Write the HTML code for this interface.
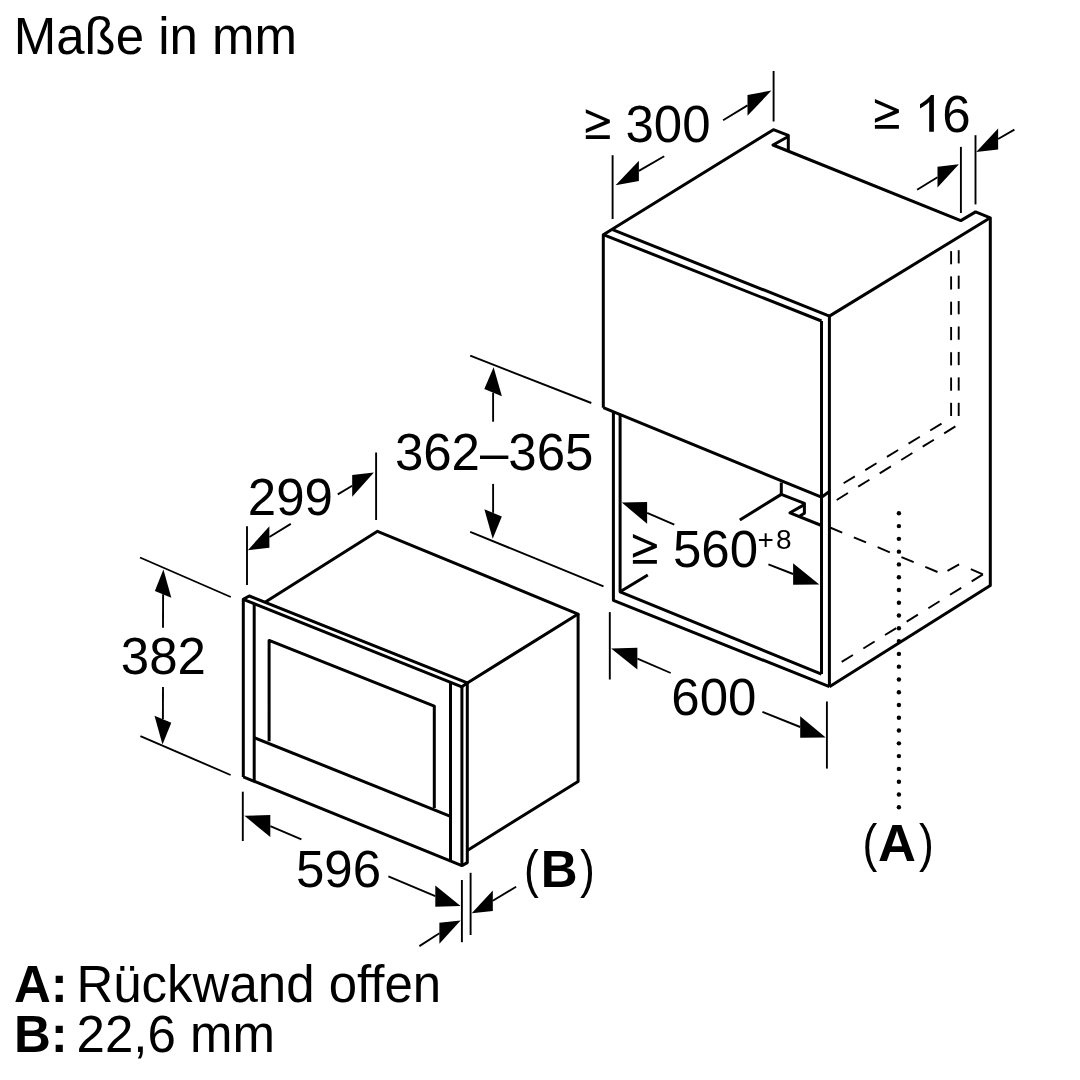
<!DOCTYPE html>
<html><head><meta charset="utf-8"><style>
html,body{margin:0;padding:0;background:#fff;}
svg{position:absolute;left:0;top:0;display:block;will-change:transform;}
text{font-family:"Liberation Sans", sans-serif;fill:#000;}
</style></head><body>
<svg width="1080" height="1080" viewBox="0 0 1080 1080">
<rect width="1080" height="1080" fill="#fff"/>
<g fill="none" stroke="#000" stroke-linejoin="round" stroke-linecap="butt">
<path d="M603.30,407.70 L603.30,234.70 L773.40,129.70 L788.30,135.30 L788.30,151.20" stroke-width="3.0" />
<path d="M788.30,136.50 L773.00,145.00 L960.80,220.60 L975.60,211.90 L990.30,217.80 L990.30,585.60 L829.40,686.70" stroke-width="3.0" />
<path d="M829.40,316.10 L990.30,217.80" stroke-width="3.0" />
<path d="M603.30,234.70 L821.50,321.00" stroke-width="3.0" />
<path d="M611.90,229.40 L829.40,316.10" stroke-width="3.0" />
<path d="M603.30,407.70 L821.50,497.20 L829.40,491.50" stroke-width="3.0" />
<path d="M821.50,321.00 L821.50,674.10" stroke-width="3.0" />
<path d="M829.40,316.10 L829.40,686.70" stroke-width="3.0" />
<path d="M613.40,411.80 L613.40,600.30 L829.40,686.70" stroke-width="3.0" />
<path d="M620.10,414.50 L620.10,591.80 L821.50,674.10" stroke-width="3.0" />
<path d="M620.10,591.80 L647.80,575.00" stroke-width="3.0" />
<path d="M739.80,520.00 L781.30,494.40" stroke-width="3.0" />
<path d="M781.30,482.50 L781.30,494.40 L804.40,503.30 L804.40,513.30 L799.50,516.30" stroke-width="3.0" />
<path d="M804.40,504.60 L790.00,512.80 L821.50,525.50" stroke-width="3.0" />
<path d="M951.10,251.10 L951.10,264.30" stroke-width="1.9" />
<path d="M951.10,276.38 L951.10,289.58" stroke-width="1.9" />
<path d="M951.10,301.67 L951.10,314.87" stroke-width="1.9" />
<path d="M951.10,326.95 L951.10,340.15" stroke-width="1.9" />
<path d="M951.10,352.23 L951.10,365.43" stroke-width="1.9" />
<path d="M951.10,377.52 L951.10,390.72" stroke-width="1.9" />
<path d="M951.10,402.80 L951.10,416.00" stroke-width="1.9" />
<path d="M958.70,250.20 L958.70,263.40" stroke-width="1.9" />
<path d="M958.70,275.63 L958.70,288.83" stroke-width="1.9" />
<path d="M958.70,301.07 L958.70,314.27" stroke-width="1.9" />
<path d="M958.70,326.50 L958.70,339.70" stroke-width="1.9" />
<path d="M958.70,351.93 L958.70,365.13" stroke-width="1.9" />
<path d="M958.70,377.37 L958.70,390.57" stroke-width="1.9" />
<path d="M958.70,402.80 L958.70,416.00" stroke-width="1.9" />
<path d="M843.60,483.30 L854.87,476.43" stroke-width="1.9" />
<path d="M865.26,470.09 L876.53,463.22" stroke-width="1.9" />
<path d="M886.92,456.89 L898.18,450.01" stroke-width="1.9" />
<path d="M908.57,443.68 L919.84,436.81" stroke-width="1.9" />
<path d="M930.23,430.47 L941.50,423.60" stroke-width="1.9" />
<path d="M836.70,500.00 L847.92,493.04" stroke-width="1.9" />
<path d="M858.20,486.67 L869.41,479.72" stroke-width="1.9" />
<path d="M879.69,473.34 L890.91,466.39" stroke-width="1.9" />
<path d="M901.19,460.01 L912.41,453.06" stroke-width="1.9" />
<path d="M922.69,446.68 L933.90,439.73" stroke-width="1.9" />
<path d="M944.18,433.36 L955.40,426.40" stroke-width="1.9" />
<path d="M830.00,527.50 L842.20,532.55" stroke-width="1.9" />
<path d="M853.83,537.36 L866.02,542.41" stroke-width="1.9" />
<path d="M877.65,547.23 L889.85,552.27" stroke-width="1.9" />
<path d="M901.48,557.09 L913.67,562.14" stroke-width="1.9" />
<path d="M925.30,566.95 L937.50,572.00" stroke-width="1.9" />
<path d="M947.50,570.80 L959.10,564.30" stroke-width="1.9" />
<path d="M970.80,569.20 L982.90,574.40" stroke-width="1.9" />
<path d="M982.90,574.40 L971.68,581.35" stroke-width="1.9" />
<path d="M961.24,587.82 L950.02,594.78" stroke-width="1.9" />
<path d="M939.57,601.25 L928.35,608.20" stroke-width="1.9" />
<path d="M917.91,614.67 L906.69,621.63" stroke-width="1.9" />
<path d="M896.25,628.10 L885.03,635.05" stroke-width="1.9" />
<path d="M874.58,641.52 L863.36,648.48" stroke-width="1.9" />
<path d="M852.92,654.95 L841.70,661.90" stroke-width="1.9" />
<circle cx="898.9" cy="513.30" r="2.2" fill="#000" stroke="none"/>
<circle cx="898.9" cy="526.08" r="2.2" fill="#000" stroke="none"/>
<circle cx="898.9" cy="538.86" r="2.2" fill="#000" stroke="none"/>
<circle cx="898.9" cy="551.64" r="2.2" fill="#000" stroke="none"/>
<circle cx="898.9" cy="564.42" r="2.2" fill="#000" stroke="none"/>
<circle cx="898.9" cy="577.20" r="2.2" fill="#000" stroke="none"/>
<circle cx="898.9" cy="589.98" r="2.2" fill="#000" stroke="none"/>
<circle cx="898.9" cy="602.76" r="2.2" fill="#000" stroke="none"/>
<circle cx="898.9" cy="615.54" r="2.2" fill="#000" stroke="none"/>
<circle cx="898.9" cy="628.32" r="2.2" fill="#000" stroke="none"/>
<circle cx="898.9" cy="641.10" r="2.2" fill="#000" stroke="none"/>
<circle cx="898.9" cy="653.88" r="2.2" fill="#000" stroke="none"/>
<circle cx="898.9" cy="666.66" r="2.2" fill="#000" stroke="none"/>
<circle cx="898.9" cy="679.44" r="2.2" fill="#000" stroke="none"/>
<circle cx="898.9" cy="692.22" r="2.2" fill="#000" stroke="none"/>
<circle cx="898.9" cy="705.00" r="2.2" fill="#000" stroke="none"/>
<circle cx="898.9" cy="717.78" r="2.2" fill="#000" stroke="none"/>
<circle cx="898.9" cy="730.56" r="2.2" fill="#000" stroke="none"/>
<circle cx="898.9" cy="743.34" r="2.2" fill="#000" stroke="none"/>
<circle cx="898.9" cy="756.12" r="2.2" fill="#000" stroke="none"/>
<circle cx="898.9" cy="768.90" r="2.2" fill="#000" stroke="none"/>
<circle cx="898.9" cy="781.68" r="2.2" fill="#000" stroke="none"/>
<circle cx="898.9" cy="794.46" r="2.2" fill="#000" stroke="none"/>
<circle cx="898.9" cy="807.24" r="2.2" fill="#000" stroke="none"/>
<path d="M243.30,776.90 L243.30,599.40 L249.20,596.00 L467.30,682.90 L467.30,862.60 L461.90,865.60 L243.30,776.90" stroke-width="3.0" />
<path d="M243.30,599.40 L461.90,686.80 L467.30,682.90" stroke-width="3.0" />
<path d="M461.90,686.80 L461.90,865.60" stroke-width="3.0" />
<path d="M254.20,603.80 L254.20,781.30" stroke-width="3.0" />
<path d="M450.50,682.50 L450.50,861.00" stroke-width="3.0" />
<path d="M269.10,741.30 L269.10,640.40 L434.30,706.10 L434.30,808.00" stroke-width="3.0" />
<path d="M254.20,737.60 L450.50,816.30" stroke-width="3.0" />
<path d="M265.00,602.30 L377.50,531.30 L578.10,614.10 L467.30,682.90" stroke-width="3.0" />
<path d="M578.10,614.10 L578.10,781.50 L467.30,850.40" stroke-width="3.0" />
<path d="M612.60,155.20 L612.60,219.00" stroke-width="1.9" />
<path d="M773.60,71.00 L773.60,121.50" stroke-width="1.9" />
<path d="M615.60,185.30 L638.90,181.10 L638.90,160.70 Z" fill="#000" stroke="none"/>
<path d="M638.90,170.90 L664.20,156.20" stroke-width="1.9" />
<path d="M771.40,90.60 L747.50,115.80 L747.50,95.00 Z" fill="#000" stroke="none"/>
<path d="M747.50,105.40 L723.10,120.30" stroke-width="1.9" />
<path d="M960.90,146.90 L960.90,213.00" stroke-width="1.9" />
<path d="M975.50,135.20 L975.50,204.40" stroke-width="1.9" />
<path d="M958.90,164.20 L937.50,187.60 L937.50,166.80 Z" fill="#000" stroke="none"/>
<path d="M937.50,177.20 L917.10,189.70" stroke-width="1.9" />
<path d="M976.20,152.00 L998.10,149.40 L998.10,128.60 Z" fill="#000" stroke="none"/>
<path d="M998.10,139.00 L1014.40,129.60" stroke-width="1.9" />
<path d="M470.20,355.60 L591.30,403.00" stroke-width="1.9" />
<path d="M470.20,531.90 L603.50,586.30" stroke-width="1.9" />
<path d="M493.60,367.20 L501.89,396.30 L484.31,389.10 Z" fill="#000" stroke="none"/>
<path d="M493.10,392.70 L493.10,421.70" stroke-width="1.9" />
<path d="M492.70,538.70 L501.84,516.38 L484.36,509.22 Z" fill="#000" stroke="none"/>
<path d="M493.10,512.80 L493.10,483.90" stroke-width="1.9" />
<path d="M621.80,502.60 L647.10,523.75 L647.10,502.05 Z" fill="#000" stroke="none"/>
<path d="M647.10,512.90 L674.30,524.70" stroke-width="1.9" />
<path d="M819.30,584.50 L793.10,584.85 L793.10,563.15 Z" fill="#000" stroke="none"/>
<path d="M793.10,574.00 L768.40,564.40" stroke-width="1.9" />
<path d="M609.80,612.10 L609.80,679.50" stroke-width="1.9" />
<path d="M826.90,701.50 L826.90,768.60" stroke-width="1.9" />
<path d="M611.10,648.50 L637.40,669.60 L637.40,647.80 Z" fill="#000" stroke="none"/>
<path d="M637.40,658.70 L670.70,673.00" stroke-width="1.9" />
<path d="M825.70,737.40 L800.20,737.75 L800.20,716.25 Z" fill="#000" stroke="none"/>
<path d="M800.20,727.00 L762.40,711.90" stroke-width="1.9" />
<path d="M247.00,526.30 L247.00,585.00" stroke-width="1.9" />
<path d="M376.10,452.50 L376.10,520.00" stroke-width="1.9" />
<path d="M247.80,550.30 L269.40,547.85 L269.40,526.15 Z" fill="#000" stroke="none"/>
<path d="M269.40,537.00 L290.80,523.90" stroke-width="1.9" />
<path d="M373.90,472.50 L352.20,496.65 L352.20,474.95 Z" fill="#000" stroke="none"/>
<path d="M352.20,485.80 L337.80,494.40" stroke-width="1.9" />
<path d="M140.00,557.50 L230.80,597.00" stroke-width="1.9" />
<path d="M140.40,736.10 L230.60,775.00" stroke-width="1.9" />
<path d="M163.40,569.60 L171.33,597.68 L154.87,590.92 Z" fill="#000" stroke="none"/>
<path d="M163.10,594.30 L163.00,627.80" stroke-width="1.9" />
<path d="M162.50,744.40 L171.32,722.75 L154.48,715.85 Z" fill="#000" stroke="none"/>
<path d="M162.90,719.30 L163.00,687.00" stroke-width="1.9" />
<path d="M242.80,791.70 L242.80,841.00" stroke-width="1.9" />
<path d="M244.40,815.70 L270.30,837.10 L270.30,815.10 Z" fill="#000" stroke="none"/>
<path d="M270.30,826.10 L301.40,839.40" stroke-width="1.9" />
<path d="M460.60,906.10 L435.30,906.65 L435.30,885.55 Z" fill="#000" stroke="none"/>
<path d="M435.30,896.10 L388.40,876.40" stroke-width="1.9" />
<path d="M461.90,880.00 L461.90,942.20" stroke-width="1.9" />
<path d="M470.60,872.80 L470.60,935.00" stroke-width="1.9" />
<path d="M460.60,920.60 L439.40,943.85 L439.40,922.75 Z" fill="#000" stroke="none"/>
<path d="M439.40,933.30 L419.40,946.10" stroke-width="1.9" />
<path d="M471.70,913.30 L492.80,911.05 L492.80,890.55 Z" fill="#000" stroke="none"/>
<path d="M492.80,900.80 L516.10,886.70" stroke-width="1.9" />
<path d="M585.80,109.20 L609.80,119.80 L609.80,123.00 L585.80,133.00 L585.80,129.00 L604.70,121.10 L585.80,113.10 Z M585.80,135.20 L609.80,135.20 L609.80,139.10 L585.80,139.10 Z" fill="#000" stroke="none"/>
<path d="M874.90,98.90 L898.90,109.50 L898.90,112.70 L874.90,122.70 L874.90,118.70 L893.80,110.80 L874.90,102.80 Z M874.90,124.90 L898.90,124.90 L898.90,128.80 L874.90,128.80 Z" fill="#000" stroke="none"/>
<path d="M632.90,533.90 L656.90,544.50 L656.90,547.70 L632.90,557.70 L632.90,553.70 L651.80,545.80 L632.90,537.80 Z M632.90,559.90 L656.90,559.90 L656.90,563.80 L632.90,563.80 Z" fill="#000" stroke="none"/>
</g>

<text x="13.7" y="54" font-size="51">Maße in mm</text>
<text x="625.5" y="142" font-size="51">300</text>
<path d="M920,104.2 C924,102 928.5,98.5 931,95 L933.9,95 L933.9,131.8 L929.2,131.8 L929.2,101.9 C927,104 923.5,106.6 920,108.4 Z" fill="#000"/>
<text x="942.35" y="131.6" font-size="51">6</text>
<text x="394.9" y="470.4" font-size="51">362–365</text>
<text x="673" y="566.8" font-size="51">560</text>
<text x="757.6" y="548.5" font-size="28">+</text>
<text x="776" y="548.5" font-size="28">8</text>
<text x="671.3" y="715.3" font-size="51">600</text>
<text x="247.8" y="515" font-size="51">299</text>
<text x="120.8" y="674.4" font-size="51">382</text>
<text x="296" y="886.5" font-size="51">596</text>
<text transform="translate(524,886.8) scale(0.87,1)" font-size="51">(</text>
<text x="540.8" y="887" font-size="51" font-weight="bold">B</text>
<text transform="translate(579.9,886.8) scale(0.87,1)" font-size="51">)</text>
<text transform="translate(862.6,861) scale(0.87,1)" font-size="51">(</text>
<text x="878" y="861" font-size="52.5" font-weight="bold">A</text>
<text transform="translate(919,861) scale(0.87,1)" font-size="51">)</text>
<text x="14" y="1002" font-size="51" font-weight="bold">A:</text>
<text x="76.4" y="1002" font-size="51">Rückwand offen</text>
<text x="14" y="1052" font-size="51" font-weight="bold">B:</text>
<text x="76.6" y="1052" font-size="51">22,6 mm</text>

</svg>
</body></html>
